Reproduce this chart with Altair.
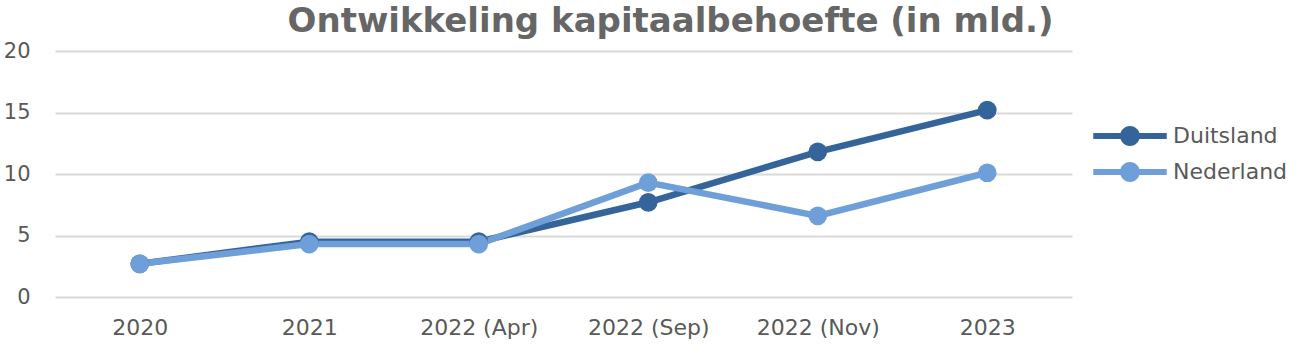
import altair as alt
import pandas as pd

categories = ["2020", "2021", "2022 (Apr)", "2022 (Sep)", "2022 (Nov)", "2023"]
duitsland = [2.7, 4.5, 4.5, 7.7, 11.8, 15.2]
nederland = [2.7, 4.3, 4.3, 9.3, 6.6, 10.1]
series_names = ["Duitsland", "Nederland"]
colors = ["#34649A", "#6F9FD8"]

rows = []
for name, vals in zip(series_names, [duitsland, nederland]):
    for c, v in zip(categories, vals):
        rows.append({"periode": c, "serie": name, "waarde": v})
df = pd.DataFrame(rows)

font = "DejaVu Sans"
legend_path = ("M-1,-0.085 L1,-0.085 L1,0.085 L-1,0.085 Z "
               "M-0.27,0 A0.27,0.27 0 0,1 0.27,0 A0.27,0.27 0 0,1 -0.27,0 Z")

chart = alt.Chart(df).mark_line(
    strokeWidth=6.5,
    point=alt.OverlayMarkDef(filled=True, size=350, opacity=1),
).encode(
    x=alt.X("periode:N", sort=categories, title=None,
            scale=alt.Scale(type="point", padding=0.5),
            axis=alt.Axis(labelAngle=0, labelFontSize=22, labelColor="#595959",
                          labelFont=font, ticks=False, domain=False, labelPadding=20)),
    y=alt.Y("waarde:Q", title=None,
            scale=alt.Scale(domain=[0, 20], nice=False),
            axis=alt.Axis(values=[0, 5, 10, 15, 20], labelFontSize=21, labelColor="#595959",
                          labelFont=font, ticks=False, domain=False, labelPadding=25,
                          gridColor="#D9D9D9", gridWidth=2)),
    color=alt.Color("serie:N", sort=series_names,
                    scale=alt.Scale(domain=series_names, range=colors),
                    legend=alt.Legend(title=None, orient="none", legendX=1038, legendY=72,
                                      symbolType=legend_path, symbolSize=5400,
                                      symbolStrokeWidth=0, symbolOpacity=1,
                                      labelFontSize=22, labelColor="#595959", labelFont=font,
                                      clipHeight=26, rowPadding=10, labelOffset=6)),
).properties(
    width=1017,
    height=246,
    title=alt.TitleParams("Ontwikkeling kapitaalbehoefte (in mld.)", fontSize=34,
                          font=font, fontWeight="bold", color="#666666",
                          anchor="middle", dx=107, dy=13, offset=14),
    padding={"left": 55, "top": 51, "right": 227, "bottom": 54},
    autosize=alt.AutoSizeParams(type="none"),
).configure_view(stroke=None)

chart.save("out.html", embed_options={"renderer": "svg", "actions": False})
